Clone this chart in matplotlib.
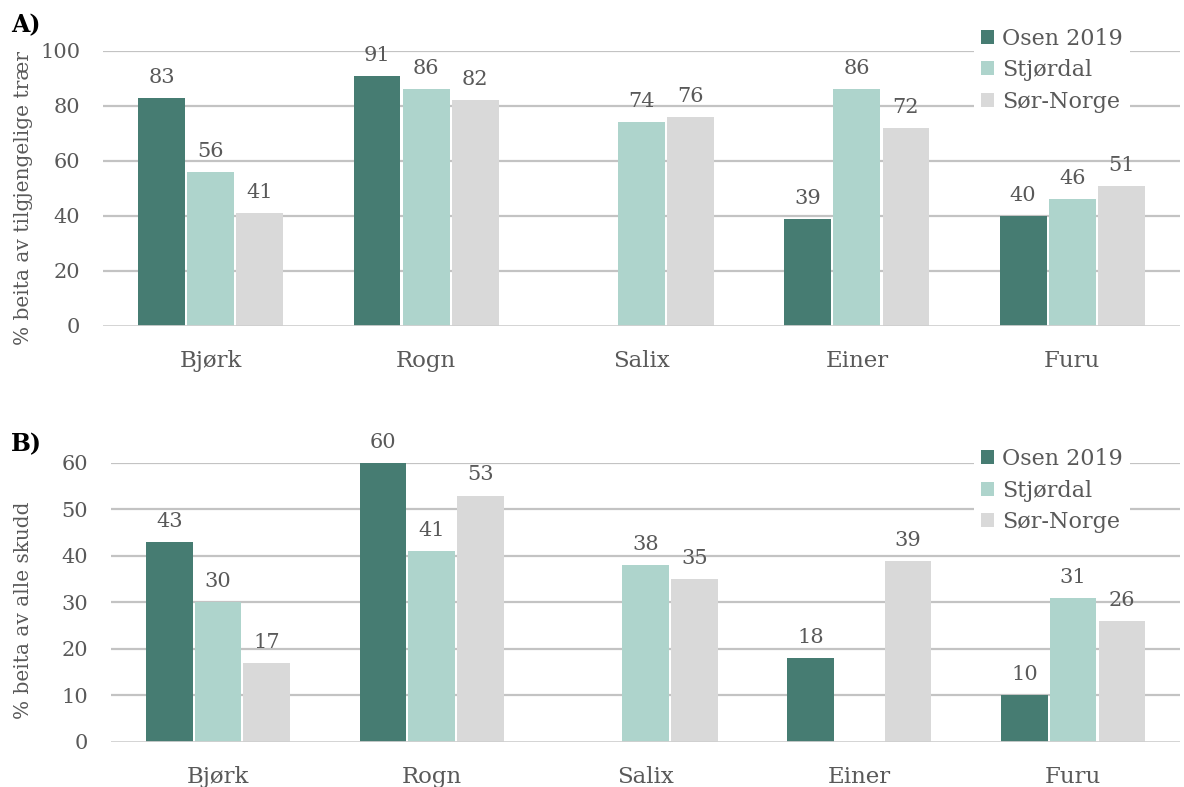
import matplotlib
matplotlib.use("Agg")
import matplotlib.pyplot as plt
import numpy as np

categories = ["Bjørk", "Rogn", "Salix", "Einer", "Furu"]
series_names = ["Osen 2019", "Stjørdal", "Sør-Norge"]

a_osen = [83, 91, np.nan, 39, 40]
a_stjordal = [56, 86, 74, 86, 46]
a_sornorge = [41, 82, 76, 72, 51]

b_osen = [43, 60, np.nan, 18, 10]
b_stjordal = [30, 41, 38, np.nan, 31]
b_sornorge = [17, 53, 35, 39, 26]

a_yticks = [0, 20, 40, 60, 80, 100]
b_yticks = [0, 10, 20, 30, 40, 50, 60]

colors = ["#467C72", "#AED4CC", "#D9D9D9"]
text_color = "#595959"
grid_color = "#C3C3C3"

plt.rcParams["font.family"] = ["DejaVu Serif"]

fig = plt.figure(figsize=(11.84, 7.87), dpi=100)

def panel(rect, series, yticks, ylabel, ylabel_y, letter, letter_xy, legend_anchor):
    ax = fig.add_axes(rect)
    x = np.arange(len(categories))
    w = 0.218
    step = 0.228
    for i, (vals, c, name) in enumerate(zip(series, colors, series_names)):
        pos = x + (i - 1) * step
        ax.bar(pos, vals, width=w, color=c, label=name, zorder=3)
        for p, v in zip(pos, vals):
            if not np.isnan(v):
                ax.annotate(f"{v:.0f}", (p, v), xytext=(0, 8), textcoords="offset points",
                            ha="center", va="bottom", fontsize=15, color=text_color)
    ax.set_xlim(-0.5, len(categories) - 0.5)
    ax.set_ylim(yticks[0], yticks[-1])
    ax.set_yticks(yticks)
    ax.set_xticks(x)
    ax.set_xticklabels(categories, fontsize=16.5, color=text_color)
    ax.tick_params(axis="x", length=0, pad=17)
    ax.tick_params(axis="y", length=0, pad=16.5, labelsize=15, labelcolor=text_color)
    for s in ax.spines.values():
        s.set_visible(False)
    for t in yticks[1:]:
        ax.axhline(t, color=grid_color, lw=1.6, zorder=1)
    ax.axhline(0, color="#D0D0D0", lw=2, zorder=4)
    ax.set_ylabel(ylabel, fontsize=14.5, color=text_color)
    ax.yaxis.set_label_coords(ylabel_y[0], ylabel_y[1], transform=fig.transFigure)
    fig.text(letter_xy[0], letter_xy[1], letter, fontsize=17, fontweight="bold", color="black",
             ha="left", va="center")
    leg = ax.legend(loc="upper left", bbox_to_anchor=legend_anchor, bbox_transform=fig.transFigure,
                    frameon=True, facecolor="white", edgecolor="none", framealpha=1,
                    fontsize=16, handlelength=0.6, handleheight=0.6, handletextpad=0.35,
                    labelspacing=0.42, borderpad=0.3, fancybox=False, borderaxespad=0)
    for t in leg.get_texts():
        t.set_color(text_color)
    leg.set_zorder(10)
    return ax

panel([0.087, 0.5858, 0.9096, 0.3494], [a_osen, a_stjordal, a_sornorge], a_yticks,
      "% beita av tilgjengelige trær", (33 / 1184, 1 - 198 / 787), "A)", (0.009, 0.968), (0.823, 0.973))
panel([0.0938, 0.0572, 0.9028, 0.3545], [b_osen, b_stjordal, b_sornorge], b_yticks,
      "% beita av alle skudd", (33 / 1184, 1 - 610 / 787), "B)", (0.009, 0.436), (0.823, 0.439))

fig.savefig("out.png", dpi=100)
